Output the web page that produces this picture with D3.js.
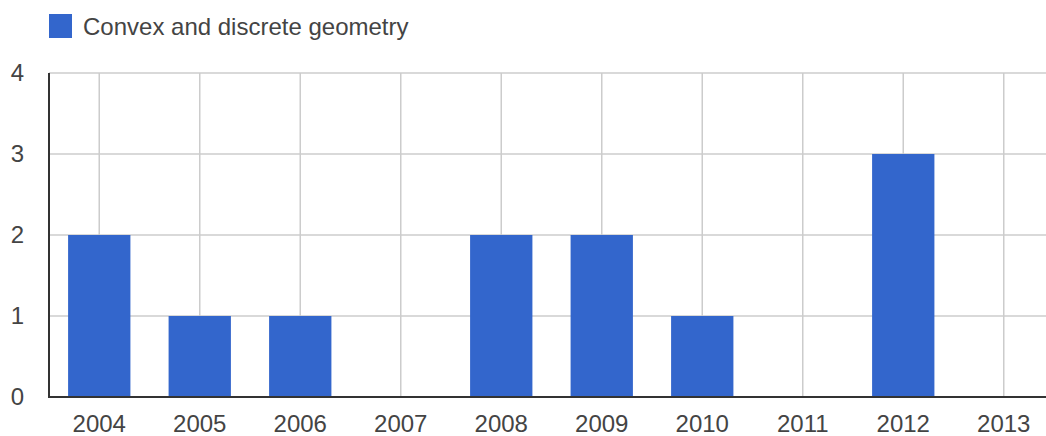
<!DOCTYPE html>
<html>
<head>
<meta charset="utf-8">
<script src="https://cdn.jsdelivr.net/npm/d3@7"></script>
<style>
  html, body { margin: 0; padding: 0; background: #fff; overflow: hidden; }
</style>
</head>
<body>
<script>
const years = ['2004', '2005', '2006', '2007', '2008', '2009', '2010', '2011', '2012', '2013']
const counts = [2, 1, 1, 0, 2, 2, 1, 0, 3, 0]
const yTicks = [0, 1, 2, 3, 4]
const seriesName = 'Convex and discrete geometry'

const width = 1046, height = 436
const fontFamily = 'Arial, "Liberation Sans", sans-serif'

const svg = d3.select('body').append('svg')
    .attr('width', width)
    .attr('height', height)
    .attr('viewBox', [0, 0, width, height])

const x = d3.scaleBand()
    .domain(years)
    .range([49, 1054])
    .paddingInner(0.38)
    .paddingOuter(0.19)

const y = d3.scaleLinear()
    .domain([0, 4])
    .range([397, 73])

// gridlines
svg.append('g')
        .attr('stroke', '#cccccc')
        .attr('stroke-width', 1.5)
    .selectAll('line.h')
    .data(yTicks.filter(d => d > 0))
    .join('line')
        .attr('x1', 49).attr('x2', width)
        .attr('y1', d => y(d)).attr('y2', d => y(d))

svg.append('g')
        .attr('stroke', '#cccccc')
        .attr('stroke-width', 1.5)
    .selectAll('line.v')
    .data(years)
    .join('line')
        .attr('x1', d => x(d) + x.bandwidth() / 2)
        .attr('x2', d => x(d) + x.bandwidth() / 2)
        .attr('y1', y(4)).attr('y2', y(0))

// bars
svg.append('g')
        .attr('fill', '#3366cc')
    .selectAll('rect')
    .data(years.map((yr, i) => ({ yr, v: counts[i] })).filter(d => d.v > 0))
    .join('rect')
        .attr('x', d => x(d.yr))
        .attr('y', d => y(d.v))
        .attr('width', x.bandwidth())
        .attr('height', d => y(0) - y(d.v))

// axis lines
svg.append('line')
    .attr('x1', 49).attr('x2', 49)
    .attr('y1', y(4)).attr('y2', y(0))
    .attr('stroke', '#333').attr('stroke-width', 2)
svg.append('line')
    .attr('x1', 48).attr('x2', width)
    .attr('y1', y(0)).attr('y2', y(0))
    .attr('stroke', '#333').attr('stroke-width', 2)

// y labels
svg.append('g')
        .attr('font-family', fontFamily)
        .attr('font-size', 24)
        .attr('fill', '#444')
        .attr('text-anchor', 'end')
    .selectAll('text')
    .data(yTicks)
    .join('text')
        .attr('x', 24)
        .attr('y', d => y(d))
        .attr('dy', '0.35em')
        .text(d => d)

// x labels
svg.append('g')
        .attr('font-family', fontFamily)
        .attr('font-size', 24)
        .attr('fill', '#444')
        .attr('text-anchor', 'middle')
    .selectAll('text')
    .data(years)
    .join('text')
        .attr('x', d => x(d) + x.bandwidth() / 2)
        .attr('y', 432)
        .text(d => d)

// legend
svg.append('rect')
    .attr('x', 49).attr('y', 14)
    .attr('width', 23).attr('height', 24)
    .attr('fill', '#3366cc')
svg.append('text')
    .attr('x', 83).attr('y', 35)
    .attr('font-family', fontFamily)
    .attr('font-size', 24)
    .attr('fill', '#444')
    .text(seriesName)
</script>
</body>
</html>
